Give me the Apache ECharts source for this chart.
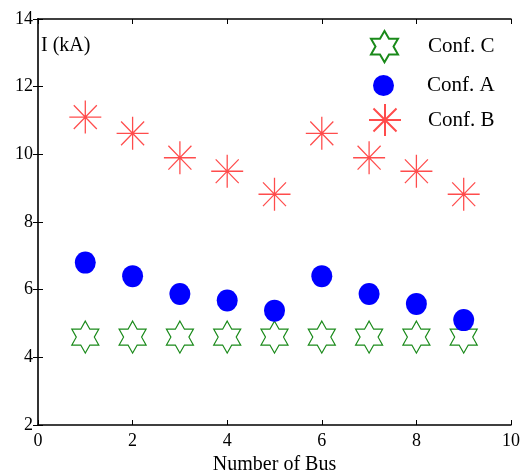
<!DOCTYPE html>
<html>
<head>
<meta charset="utf-8">
<script src="https://cdn.jsdelivr.net/npm/echarts@6/dist/echarts.min.js"></script>
<style>html,body{margin:0;padding:0;background:#fff}#c{width:527px;height:470px}</style>
</head>
<body>
<div id="c"></div>
<script>
const buses = [1, 2, 3, 4, 5, 6, 7, 8, 9];
const confC = [4.6, 4.6, 4.6, 4.6, 4.6, 4.6, 4.6, 4.6, 4.6];
const confA = [6.8, 6.4, 5.87, 5.68, 5.38, 6.4, 5.87, 5.58, 5.1];
const confB = [11.1, 10.62, 9.9, 9.5, 8.82, 10.62, 9.9, 9.5, 8.82];
const xTicks = [0, 2, 4, 6, 8, 10];
const yTicks = [2, 4, 6, 8, 10, 12, 14];

const FONT = '"Liberation Serif", "DejaVu Serif", serif';
const STAR = 'path://M0,-1L0.2887,-0.5L0.866,-0.5L0.577,0L0.866,0.5L0.2887,0.5L0,1L-0.2887,0.5L-0.866,0.5L-0.577,0L-0.866,-0.5L-0.2887,-0.5Z';
const AST = 'path://M0,-1L0,1M-1,0L1,0M-0.72,-0.72L0.72,0.72M-0.72,0.72L0.72,-0.72';

const pairs = arr => buses.map((b, i) => [b, arr[i]]);

const chart = echarts.init(document.getElementById('c'));
const axisCommon = {
  type: 'value',
  axisLine: { show: true, lineStyle: { color: '#000', width: 1.5 } },
  axisTick: { show: true, inside: true, length: 5, lineStyle: { color: '#000', width: 1 } },
  splitLine: { show: false }
};
const legendText = pad => ({ fontFamily: FONT, fontSize: 21, color: '#000', padding: [0, 0, 0, pad] });
chart.setOption({
  animation: false,
  grid: { left: 38, right: 16, top: 19, bottom: 45, outerBoundsMode: 'none', containLabel: false },
  title: {
    text: 'I (kA)', left: 36, top: 31,
    textStyle: { fontFamily: FONT, fontSize: 20, fontWeight: 'normal', color: '#000' }
  },
  legend: [
    { data: ['Conf. C'], orient: 'vertical', left: 365, top: 25, itemWidth: 27, itemHeight: 32,
      textStyle: legendText(25) },
    { data: ['Conf. A'], orient: 'vertical', left: 368, top: 70, itemWidth: 21, itemHeight: 22,
      textStyle: legendText(28) },
    { data: ['Conf. B'], orient: 'vertical', left: 363, top: 98, itemWidth: 32, itemHeight: 33,
      textStyle: legendText(22) }
  ],
  xAxis: [
    Object.assign({}, axisCommon, {
      min: 0, max: 10, interval: 2, position: 'bottom',
      name: 'Number of Bus', nameLocation: 'middle', nameGap: 24,
      nameTextStyle: { fontFamily: FONT, fontSize: 20, color: '#000' },
      axisLabel: { fontFamily: FONT, fontSize: 18, color: '#000', margin: 7,
        formatter: v => xTicks.includes(v) ? String(v) : '' }
    }),
    Object.assign({}, axisCommon, {
      min: 0, max: 10, interval: 2, position: 'top', axisLabel: { show: false }
    })
  ],
  yAxis: [
    Object.assign({}, axisCommon, {
      min: 2, max: 14, interval: 2, position: 'left',
      axisLabel: { fontFamily: FONT, fontSize: 18, color: '#000', margin: 5,
        formatter: v => yTicks.includes(v) ? String(v) : '' }
    }),
    Object.assign({}, axisCommon, {
      min: 2, max: 14, interval: 2, position: 'right', axisLabel: { show: false },
      axisLine: { show: true, lineStyle: { color: '#333', width: 2 } }
    })
  ],
  series: [
    { name: 'Conf. C', type: 'scatter', data: pairs(confC), symbol: STAR, symbolSize: [27, 32],
      itemStyle: { color: 'rgba(255,255,255,0)', borderColor: '#1a8a1a', borderWidth: 1.2, opacity: 1 }, z: 2 },
    { name: 'Conf. A', type: 'scatter', data: pairs(confA), symbol: 'circle', symbolSize: [21, 22],
      itemStyle: { color: '#0000ff', opacity: 1 }, z: 3 },
    { name: 'Conf. B', type: 'scatter', data: pairs(confB), symbol: AST, symbolSize: [32, 33],
      itemStyle: { color: 'rgba(255,0,0,0)', borderColor: 'rgba(255,0,0,0.7)', borderWidth: 1.3, opacity: 1 }, z: 4 }
  ]
});
</script>
</body>
</html>
